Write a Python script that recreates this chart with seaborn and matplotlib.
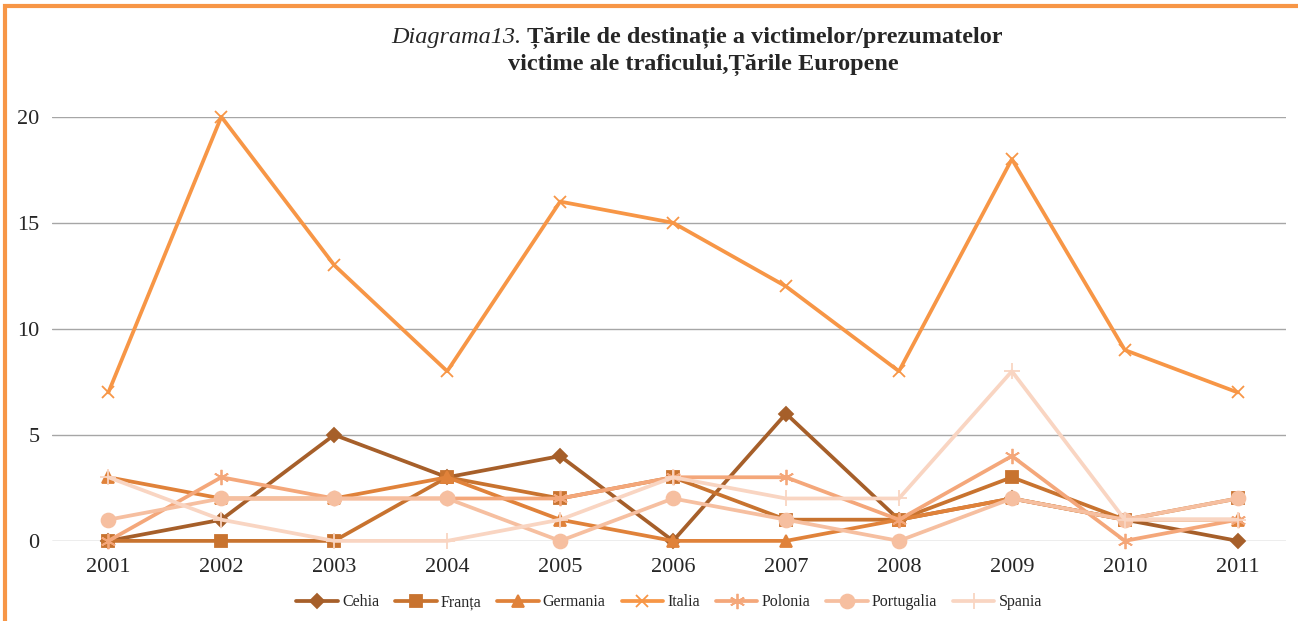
import matplotlib
matplotlib.use("Agg")
from matplotlib import pyplot as plt
from matplotlib.patches import Rectangle
import pandas as pd
import seaborn as sns

years = [2001, 2002, 2003, 2004, 2005, 2006, 2007, 2008, 2009, 2010, 2011]
cehia = [0, 1, 5, 3, 4, 0, 6, 1, 2, 1, 0]
franta = [0, 0, 0, 3, 2, 3, 1, 1, 3, 1, 2]
germania = [3, 2, 2, 3, 1, 0, 0, 1, 2, 1, 1]
italia = [7, 20, 13, 8, 16, 15, 12, 8, 18, 9, 7]
polonia = [0, 3, 2, 2, 2, 3, 3, 1, 4, 0, 1]
portugalia = [1, 2, 2, 2, 0, 2, 1, 0, 2, 1, 2]
spania = [3, 1, 0, 0, 1, 3, 2, 2, 8, 1, 1]

countries = ["Cehia", "Franța", "Germania", "Italia", "Polonia", "Portugalia", "Spania"]
series = [cehia, franta, germania, italia, polonia, portugalia, spania]
colors = ["#A65F2A", "#C8732F", "#E0823A", "#F79646", "#F4A77A", "#F6BFA0", "#F9D5C2"]
markers = ["D", "s", "^", "x", (6, 2, 0), "o", "+"]
sizes = [7, 9, 9, 9, 11, 10, 11]

df = pd.DataFrame({
    "year": years * len(countries),
    "value": [v for s in series for v in s],
    "country": [c for c in countries for _ in years],
})

sns.set_style("white")
plt.rcParams["font.family"] = ["Liberation Serif", "DejaVu Serif"]

fig = plt.figure(figsize=(12.98, 6.21), dpi=100)
ax = fig.add_axes([0.040, 0.129, 0.951, 0.683])

for c, col, m, ms in zip(countries, colors, markers, sizes):
    sns.lineplot(data=df[df["country"] == c], x="year", y="value", color=col,
                 marker=m, markersize=ms, markeredgecolor=col, markeredgewidth=1.3,
                 linewidth=2.7, label=c, ax=ax, clip_on=False)

ax.set_xlim(2000.5, 2011.43)
ax.set_ylim(0, 20)
ax.set_xticks(years)
ax.set_xticklabels([str(y) for y in years])
ax.set_yticks([0, 5, 10, 15, 20])
ax.tick_params(axis="both", labelsize=16, length=0)
ax.tick_params(axis="x", pad=12)
ax.tick_params(axis="y", pad=9)
ax.yaxis.grid(True, color="#A6A6A6", linewidth=1)
ax.set_axisbelow(True)
for s in ax.spines.values():
    s.set_visible(False)
ax.set_xlabel("")
ax.set_ylabel("")

ax.legend(loc="center", bbox_to_anchor=(0.5, -0.145), ncol=7, frameon=False,
          fontsize=11.5, handlelength=2.6, handletextpad=0.25, columnspacing=1.0)

# title: italic prefix + bold text on first line
fs = 17.5
rend = fig.canvas.get_renderer()
t_a = fig.text(0, 0.939, "Diagrama13. ", va="center", fontsize=fs, style="italic")
t_b = fig.text(0, 0.939, "Țările de destinație a victimelor/prezumatelor",
               va="center", fontsize=fs, fontweight="bold")
wa = t_a.get_window_extent(rend).width
wb = t_b.get_window_extent(rend).width
x0 = (fig.bbox.width - wa - wb) / 2 + 48
t_a.set_x(x0 / fig.bbox.width)
t_b.set_x((x0 + wa) / fig.bbox.width)
fig.text(0.5 + 54 / fig.bbox.width, 0.895, "victime ale traficului,Țările Europene",
         ha="center", va="center", fontsize=fs, fontweight="bold")

fig.patches.append(Rectangle((0.004, -0.02), 1.2, 1.01, transform=fig.transFigure,
                             fill=False, edgecolor="#F79646", linewidth=3))

fig.savefig("out.png", dpi=100)
